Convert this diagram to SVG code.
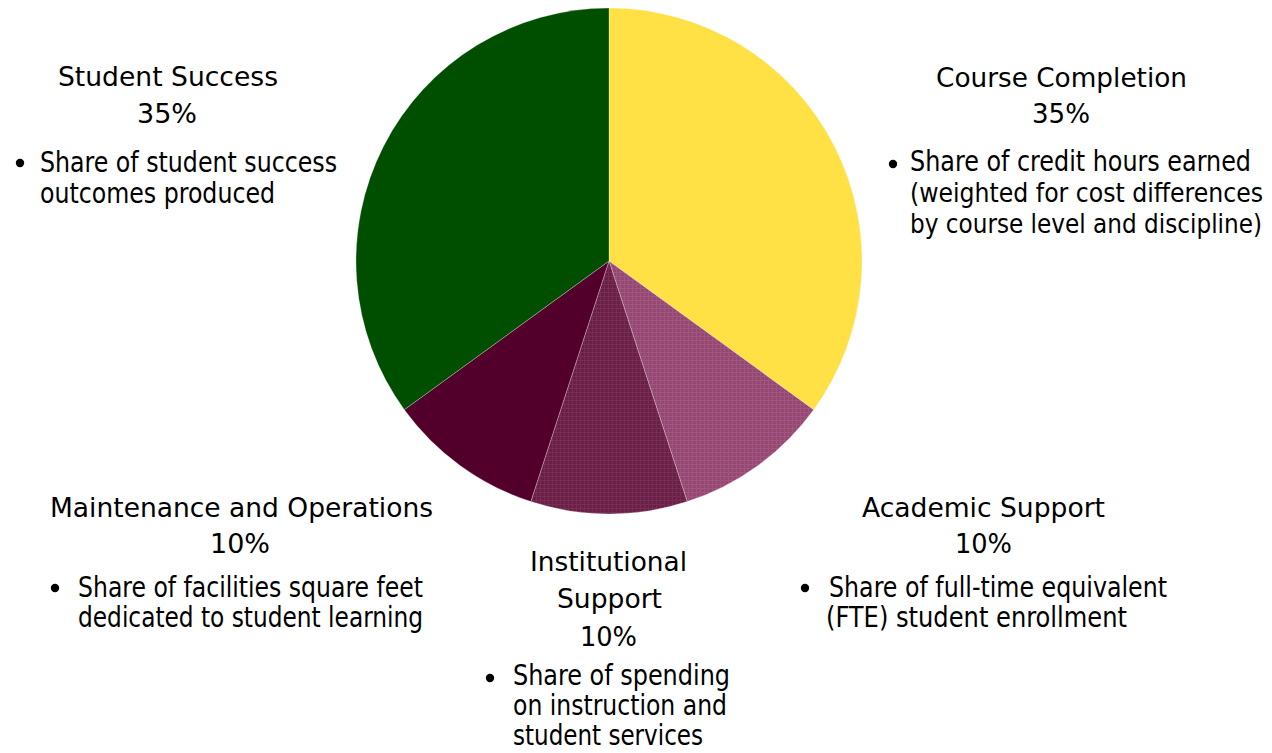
<svg xmlns="http://www.w3.org/2000/svg" width="1272" height="753" viewBox="0 0 1272 753">
<defs>
<pattern id="patA" width="4" height="4" patternUnits="userSpaceOnUse">
<rect width="4" height="4" fill="#944872"/>
<rect width="4" height="1" fill="#A05580"/>
<rect width="1" height="4" fill="#A05580"/>
</pattern>
<pattern id="patI" width="4" height="4" patternUnits="userSpaceOnUse">
<rect width="4" height="4" fill="#6A1F46"/>
<rect width="4" height="1" fill="#772C53"/>
<rect width="1" height="4" fill="#772C53"/>
</pattern>
<style>
text{font-family:"DejaVu Sans Condensed","DejaVu Sans",sans-serif;fill:#000;font-stretch:condensed}
.t{font-size:27px}
.b{font-size:28px}
.s{font-size:26px}
.slice{stroke:#ffffff;stroke-opacity:0.35;stroke-width:0.8}
</style>
</defs>
<g id="pie">
<path id="slice-course" class="slice" fill="#FFE045" d="M609,261 L609,8 A253,253 0 0 1 813.7,409.7 Z"/>
<path id="slice-academic" class="slice" fill="url(#patA)" d="M609,261 L813.7,409.7 A253,253 0 0 1 687.2,501.6 Z"/>
<path id="slice-institutional" class="slice" fill="url(#patI)" d="M609,261 L687.2,501.6 A253,253 0 0 1 530.8,501.6 Z"/>
<path id="slice-maintenance" class="slice" fill="#52002B" d="M609,261 L530.8,501.6 A253,253 0 0 1 404.3,409.7 Z"/>
<path id="slice-student" class="slice" fill="#004F00" d="M609,261 L404.3,409.7 A253,253 0 0 1 609,8 Z"/>
</g>
<g id="label-student-success">
<text class="t" x="58" y="86" textLength="220" lengthAdjust="spacingAndGlyphs">Student Success</text>
<text class="t" x="137" y="123" textLength="60" lengthAdjust="spacingAndGlyphs">35%</text>
<circle cx="20" cy="163" r="4.2"/>
<text class="b" x="40" y="172" textLength="297" lengthAdjust="spacingAndGlyphs">Share of student success</text>
<text class="b" x="40" y="203" textLength="235" lengthAdjust="spacingAndGlyphs">outcomes produced</text>
</g>
<g id="label-course-completion">
<text class="t" x="936" y="87" textLength="251" lengthAdjust="spacingAndGlyphs">Course Completion</text>
<text class="t" x="1032" y="123" textLength="58" lengthAdjust="spacingAndGlyphs">35%</text>
<circle cx="893" cy="164" r="4.2"/>
<text class="b" x="910" y="171" textLength="341" lengthAdjust="spacingAndGlyphs">Share of credit hours earned</text>
<text class="s" x="910" y="202" textLength="353" lengthAdjust="spacingAndGlyphs">(weighted for cost differences</text>
<text class="s" x="910" y="233" textLength="352" lengthAdjust="spacingAndGlyphs">by course level and discipline)</text>
</g>
<g id="label-maintenance">
<text class="t" x="50" y="517" textLength="383" lengthAdjust="spacingAndGlyphs">Maintenance and Operations</text>
<text class="t" x="210" y="553" textLength="60" lengthAdjust="spacingAndGlyphs">10%</text>
<circle cx="55" cy="588" r="4.2"/>
<text class="b" x="78" y="597" textLength="345" lengthAdjust="spacingAndGlyphs">Share of facilities square feet</text>
<text class="b" x="78" y="627" textLength="345" lengthAdjust="spacingAndGlyphs">dedicated to student learning</text>
</g>
<g id="label-institutional">
<text class="t" x="530" y="571" textLength="157" lengthAdjust="spacingAndGlyphs">Institutional</text>
<text class="t" x="557" y="608" textLength="105" lengthAdjust="spacingAndGlyphs">Support</text>
<text class="t" x="580" y="646" textLength="57" lengthAdjust="spacingAndGlyphs">10%</text>
<circle cx="490" cy="678" r="4.2"/>
<text class="b" x="513" y="685" textLength="217" lengthAdjust="spacingAndGlyphs">Share of spending</text>
<text class="b" x="513" y="715" textLength="214" lengthAdjust="spacingAndGlyphs">on instruction and</text>
<text class="b" x="513" y="745" textLength="190" lengthAdjust="spacingAndGlyphs">student services</text>
</g>
<g id="label-academic">
<text class="t" x="862" y="517" textLength="243" lengthAdjust="spacingAndGlyphs">Academic Support</text>
<text class="t" x="955" y="553" textLength="57" lengthAdjust="spacingAndGlyphs">10%</text>
<circle cx="805" cy="588" r="4.2"/>
<text class="b" x="829" y="597" textLength="338" lengthAdjust="spacingAndGlyphs">Share of full-time equivalent</text>
<text class="b" x="826" y="627" textLength="301" lengthAdjust="spacingAndGlyphs">(FTE) student enrollment</text>
</g>
</svg>
